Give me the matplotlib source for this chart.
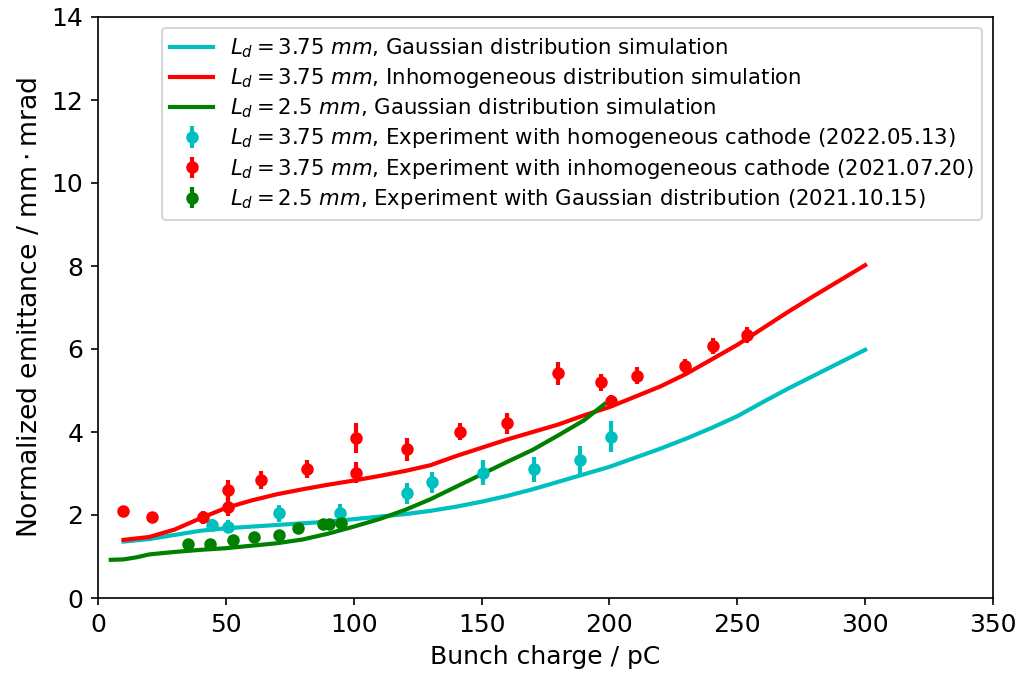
import matplotlib
matplotlib.use("Agg")
import matplotlib.pyplot as plt

# Simulation curves
sim_x = [10, 20, 30, 40, 50, 60, 70, 80, 90, 100, 110, 120, 130, 140, 150,
         160, 170, 180, 190, 200, 210, 220, 230, 240, 250, 260, 270, 280, 290, 300]
sim_gauss_375 = [1.36, 1.42, 1.52, 1.62, 1.68, 1.72, 1.76, 1.80, 1.84, 1.90, 1.96, 2.02, 2.10, 2.20, 2.32,
                 2.46, 2.62, 2.80, 2.98, 3.16, 3.38, 3.60, 3.84, 4.10, 4.38, 4.72, 5.05, 5.36, 5.67, 5.98]
sim_inhom_375 = [1.40, 1.47, 1.65, 1.92, 2.17, 2.35, 2.50, 2.62, 2.73, 2.83, 2.94, 3.06, 3.20, 3.42, 3.62,
                 3.82, 4.00, 4.18, 4.40, 4.60, 4.85, 5.10, 5.40, 5.75, 6.10, 6.50, 6.90, 7.28, 7.65, 8.02]
sim25_x = [5, 10, 15, 20, 30, 40, 50, 60, 70, 80, 90, 100, 110, 120, 130, 140, 150, 160, 170, 180, 190, 198]
sim_gauss_25 = [0.92, 0.93, 0.98, 1.05, 1.11, 1.16, 1.20, 1.26, 1.32, 1.41, 1.55, 1.72, 1.90, 2.12, 2.38,
                2.68, 2.98, 3.28, 3.57, 3.92, 4.28, 4.67]

# Experiments
exp_hom_x = [44.7, 50.7, 70.8, 94.8, 120.7, 130.8, 150.7, 170.6, 188.5, 200.8]
exp_hom_y = [1.76, 1.72, 2.04, 2.06, 2.52, 2.79, 3.02, 3.10, 3.33, 3.89]
exp_hom_err = [0.15, 0.15, 0.2, 0.2, 0.25, 0.25, 0.3, 0.3, 0.33, 0.38]

exp_inhom_x = [9.7, 21.0, 41.2, 50.7, 50.7, 63.7, 81.7, 100.8, 100.8, 120.7, 141.7, 159.8,
               179.8, 196.7, 200.8, 210.7, 229.6, 240.6, 253.8]
exp_inhom_y = [2.10, 1.96, 1.94, 2.60, 2.20, 2.84, 3.10, 3.86, 3.02, 3.58, 4.01, 4.21,
               5.41, 5.20, 4.75, 5.36, 5.59, 6.07, 6.34]
exp_inhom_err = [0.05, 0.05, 0.15, 0.25, 0.22, 0.22, 0.22, 0.36, 0.25, 0.28, 0.2, 0.25,
                 0.28, 0.2, 0.15, 0.2, 0.18, 0.2, 0.2]

exp_g25_x = [35.3, 43.8, 52.7, 60.9, 70.8, 78.3, 87.9, 90.5, 95.0]
exp_g25_y = [1.29, 1.29, 1.40, 1.48, 1.52, 1.68, 1.78, 1.78, 1.80]
exp_g25_err = [0.05, 0.05, 0.05, 0.05, 0.05, 0.05, 0.05, 0.05, 0.05]

labels = [
    r"$L_d = 3.75\ mm$, Gaussian distribution simulation",
    r"$L_d = 3.75\ mm$, Inhomogeneous distribution simulation",
    r"$L_d = 2.5\ mm$, Gaussian distribution simulation",
    r"$L_d = 3.75\ mm$, Experiment with homogeneous cathode (2022.05.13)",
    r"$L_d = 3.75\ mm$, Experiment with inhomogeneous cathode (2021.07.20)",
    r"$L_d = 2.5\ mm$, Experiment with Gaussian distribution (2021.10.15)",
]

fig = plt.figure(figsize=(1025/150, 686/150), dpi=150)
ax = fig.add_axes([98/1025, 1 - 598/686, (993 - 98)/1025, (598 - 17)/686])

h1, = ax.plot(sim_x, sim_gauss_375, color='c', lw=2)
h2, = ax.plot(sim_x, sim_inhom_375, color='r', lw=2)
h3, = ax.plot(sim25_x, sim_gauss_25, color='g', lw=2)
e1 = ax.errorbar(exp_hom_x, exp_hom_y, yerr=exp_hom_err, fmt='o', color='c', ms=5, elinewidth=2, capsize=0)
e2 = ax.errorbar(exp_inhom_x, exp_inhom_y, yerr=exp_inhom_err, fmt='o', color='r', ms=5, elinewidth=2, capsize=0)
e3 = ax.errorbar(exp_g25_x, exp_g25_y, yerr=exp_g25_err, fmt='o', color='g', ms=5, elinewidth=2, capsize=0)

ax.set_xlim(0, 350)
ax.set_ylim(0, 14)
ax.set_xticks(range(0, 351, 50))
ax.set_yticks(range(0, 15, 2))
ax.tick_params(labelsize=12)
ax.set_xlabel("Bunch charge / pC", fontsize=12)
ax.set_ylabel(r"Normalized emittance / $\mathrm{mm}\cdot\mathrm{mrad}$", fontsize=12.8)
ax.legend([h1, h2, h3, e1, e2, e3], labels, loc='upper right', fontsize=10.2,
          labelspacing=0.3, handlelength=2.0)

fig.savefig("out.png", dpi=150)
